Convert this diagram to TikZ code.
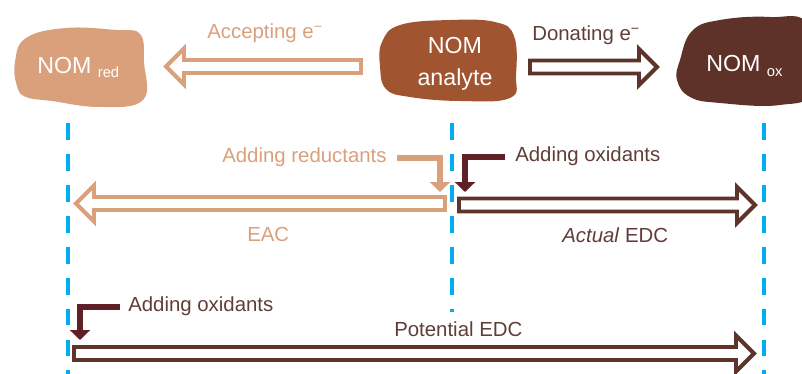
\documentclass[tikz,border=0pt]{standalone}
\usepackage{fontspec}
\setmainfont{Liberation Sans}
\usetikzlibrary{arrows.meta}

\definecolor{nomred}{RGB}{218,160,124}
\definecolor{nomana}{RGB}{161,84,48}
\definecolor{nomox}{RGB}{94,50,40}
\definecolor{edcline}{RGB}{94,52,42}
\definecolor{edctext}{RGB}{96,62,55}
\definecolor{oxarrow}{RGB}{96,30,38}
\definecolor{guideblue}{RGB}{0,174,239}

% hollow block arrow: colour, tail x, tip x, y
\newcommand{\hollowarrow}[4]{%
    \pgfmathsetmacro{\hbase}{#3-18*sign(#3-#2)}
    \draw[#1, line width=2.8pt, fill=white, line join=miter]
        (#2,#4-6.5) -- (\hbase,#4-6.5) -- (\hbase,#4-18) -- (#3,#4)
        -- (\hbase,#4+18) -- (\hbase,#4+6.5) -- (#2,#4+6.5) -- cycle;
}

\tikzset{
    blobtext/.style={text=white, inner sep=0, font=\fontsize{16.5}{23}\selectfont},
    lbl/.style={inner sep=0, font=\fontsize{14.5}{17}\selectfont},
    guide/.style={guideblue, line width=3pt, dash pattern=on 12pt off 10pt},
    bentarrow/.style={line width=4.3pt, line join=miter, -{Triangle[width=14pt,length=7pt]}}
}

\newcommand{\subsz}{\fontsize{10.5}{12}\selectfont}

\begin{document}
\begin{tikzpicture}[x=0.025cm, y=-0.025cm]
    \useasboundingbox (0,0) rectangle (802,374);

    % guide lines
    \foreach \x/\yend in {68/374, 452/312, 764/374}
        \draw[guide] (\x,123) -- (\x,\yend);

    % the three NOM blobs
    \fill[nomred] plot[smooth cycle, tension=0.7] coordinates
        {(15,62) (26,38) (66,28) (116,30) (140,34) (144,62) (143,100) (100,107) (52,101) (26,97) (17,86)};
    \fill[nomana] plot[smooth cycle, tension=0.7] coordinates
        {(382,42) (400,25) (450,20) (495,22) (514,36) (516,75) (510,98) (460,101) (410,97) (386,89) (380,66)};
    \fill[nomox] plot[smooth cycle, tension=0.7] coordinates
        {(680,60) (692,31) (720,20) (770,17) (808,25) (812,90) (780,105) (720,103) (690,97) (677,80)};

    \node[blobtext, anchor=base west] (red) at (37,73) {NOM {\subsz\raisebox{-3.5pt}{red}}};
    \node[blobtext, align=center, anchor=north] (ana) at (455,37) {NOM\\analyte};
    \node[blobtext, anchor=base west] (ox) at (706,72) {NOM {\subsz\raisebox{-3pt}{ox}}};

    % top arrows
    \hollowarrow{nomred}{361}{166}{66.5}
    \hollowarrow{edcline}{530}{657}{67}
    \node[lbl, text=nomred, anchor=base west] (acc) at (207,39) {Accepting e\textsuperscript{−}};
    \node[lbl, text=edctext, anchor=base west] (don) at (532,41) {Donating e\textsuperscript{−}};

    % EAC and actual EDC
    \hollowarrow{nomred}{445}{76}{203.5}
    \hollowarrow{edcline}{459}{755}{205}
    \node[lbl, text=nomred, anchor=base west] (addred) at (222,162) {Adding reductants};
    \node[lbl, text=edctext, anchor=base west] (addox) at (515,161) {Adding oxidants};
    \node[lbl, text=nomred, anchor=base west] (eac) at (247,241) {EAC};
    \node[lbl, text=edctext, anchor=base west] (aedc) at (562,242) {\textit{Actual} EDC};
    \coordinate (redtip) at (440,192);
    \coordinate (oxtip) at (465,192);
    \draw[bentarrow, nomred] ([xshift=7pt]addred.mid east) -| (redtip);
    \draw[bentarrow, oxarrow] ([xshift=-7pt]addox.mid west) -| (oxtip);

    % potential EDC
    \hollowarrow{edcline}{74}{754}{353.5}
    \node[lbl, text=edctext, anchor=base west] (addoxb) at (128,311) {Adding oxidants};
    \node[lbl, text=edctext, anchor=base west] (pedc) at (394,336) {Potential EDC};
    \coordinate (oxbtip) at (80,340);
    \draw[bentarrow, oxarrow] ([xshift=-6pt]addoxb.mid west) -| (oxbtip);

\end{tikzpicture}
\end{document}
